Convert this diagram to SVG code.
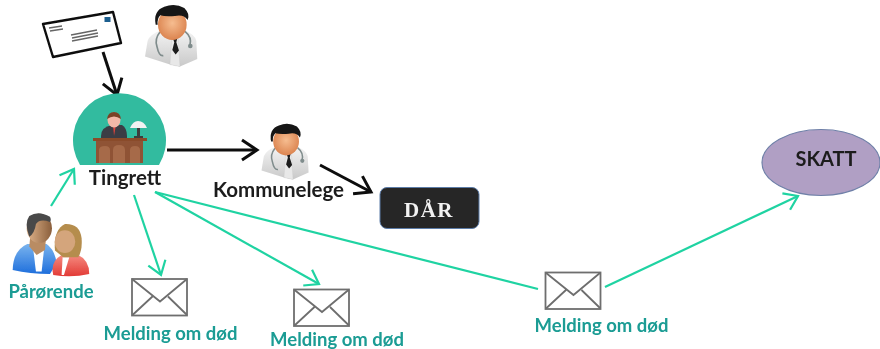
<svg xmlns="http://www.w3.org/2000/svg" xmlns:xlink="http://www.w3.org/1999/xlink" width="880" height="349" viewBox="0 0 880 349">
<style>
text{font-family:Lato,"Liberation Sans",sans-serif;font-weight:700;text-anchor:middle}
.k{fill:#1c1c1c;font-size:20.5px}
.t{fill:#1a9c94;font-size:18.5px}
.g{fill:none;stroke:#1fd3a2;stroke-width:2.2;marker-end:url(#ag)}
.g0{fill:none;stroke:#1fd3a2;stroke-width:2.2}
.b{fill:none;stroke:#0d0d0d;stroke-width:3;marker-end:url(#ab)}
.env{fill:#fff;stroke:#6e6e6e;stroke-width:1.8}
.soft{filter:url(#soft)}
</style>
<defs>
<filter id="soft" x="-5%" y="-5%" width="110%" height="110%"><feGaussianBlur stdDeviation="0.4"/></filter>
<marker id="ag" markerUnits="userSpaceOnUse" markerWidth="20" markerHeight="24" refX="15" refY="12" orient="auto"><path d="M2 3 L15 12 L2 21" fill="none" stroke="#1fd3a2" stroke-width="2.2"/></marker>
<marker id="ab" markerUnits="userSpaceOnUse" markerWidth="22" markerHeight="26" refX="17" refY="13" orient="auto"><path d="M2 3 L17 13 L2 23" fill="none" stroke="#0d0d0d" stroke-width="3"/></marker>
<radialGradient id="skin" cx="50%" cy="45%" r="60%"><stop offset="0" stop-color="#f6bd90"/><stop offset="1" stop-color="#d97f4a"/></radialGradient>
<linearGradient id="coat" x1="0" y1="0" x2="0" y2="1"><stop offset="0" stop-color="#f4f4f4"/><stop offset="1" stop-color="#c9c9c9"/></linearGradient>
<linearGradient id="blue" x1="0" y1="0" x2="0" y2="1"><stop offset="0" stop-color="#7ab4ee"/><stop offset="1" stop-color="#1f6fdc"/></linearGradient>
<linearGradient id="red" x1="0" y1="0" x2="0" y2="1"><stop offset="0" stop-color="#f58b80"/><stop offset="1" stop-color="#e23a35"/></linearGradient>
<linearGradient id="tan" x1="0" y1="0" x2="1" y2="0"><stop offset="0" stop-color="#e0b48c"/><stop offset="1" stop-color="#8a5f3c"/></linearGradient>
<g id="doctor">
<path d="M0 158 L8 110 Q14 92 48 78 L118 78 Q150 92 154 110 L157 165 L105 188 L75 182 Z" fill="url(#coat)"/>
<path d="M75 182 L80 105 L100 105 L105 188 Z" fill="#e8e8e8" stroke="#c4c4c4"/>
<path d="M82 98 L98 98 L94 115 L102 140 L92 152 L82 138 L88 115 Z" fill="#1b1b1b"/>
<path d="M45 84 Q28 105 36 128 Q42 158 55 155 M120 82 Q142 100 135 124" fill="none" stroke="#7f8c8c" stroke-width="5"/>
<circle cx="136" cy="126" r="7" fill="#7f8c8c"/>
<ellipse cx="82" cy="62" rx="43" ry="46" fill="url(#skin)"/>
<path d="M32 62 Q24 20 58 8 Q90 -4 118 12 Q136 30 128 48 Q116 30 90 36 Q60 38 46 34 Q36 44 38 62 Z" fill="#141414"/>
</g>
<g id="mail">
<rect x="0" y="0" width="55" height="36.5"/>
<path d="M0 0 L28 22.5 L55 0 M0.5 36 L21 17 M55 36 L36 17.5" fill="none"/>
</g>
</defs>

<g id="connectors">
<path class="b" d="M103 52 L117 95"/>
<path class="b" d="M167 150 L257 150"/>
<path class="b" d="M320 165 L371 192"/>
<path class="g" d="M51 206 L74 169"/>
<path class="g" d="M134 195 L161 275"/>
<path class="g" d="M155 192 L319 284"/>
<path class="g0" d="M155 192 L538 289"/>
<path class="g" d="M605 287 L798 196"/>
</g>

<g id="letter" class="soft">
<path d="M43 24 L113 12 L121 43 L53 57 Z" fill="#fff" stroke="#111" stroke-width="2.4" stroke-linejoin="round"/>
<path d="M49 28 L62 26 M50 31 L63 29 M71 35 L97 30 M72 38 L98 33 M72 41 L98 36" stroke="#666" stroke-width="1.3" fill="none"/>
<rect x="104.500" y="17" width="6" height="5" fill="#1f5f8f"/>
</g>

<g id="doctor-top" class="soft"><use xlink:href="#doctor" href="#doctor" transform="translate(145 4) scale(.333)"/></g>

<g id="tingrett">
<g class="soft">
<path d="M80 165 A46.500 47 0 1 1 159 165 Z" fill="#32bb9f"/>
<path d="M101 136 Q101 127 112 125 L122 125 Q127 128 127 136 V138 H101 Z" fill="#3a3d44"/>
<path d="M113 125 L114 136 L116 125 Z" fill="#d9443f"/>
<ellipse cx="114" cy="120" rx="6.500" ry="7.500" fill="#f2b8a8"/>
<path d="M107 119 Q108 112 114 112 Q120 112 121 119 Q114 114 107 119 Z" fill="#7a4326"/>
<path d="M130 128 Q133 121 138 121 Q144 121 147 128 Z" fill="#f2f2f2"/>
<path d="M137 128 H140 V136 H143 V138 H134 V136 H137 Z" fill="#3e3e3e"/>
<rect x="93" y="138" width="54" height="3" fill="#8a4b2b"/>
<rect x="96" y="141" width="47" height="22" fill="#8f5234"/>
<path d="M99 163 V150 Q99 146 105 146 Q110 146 110 150 V163 Z M113 163 V150 Q113 145 119 145 Q125 145 125 150 V163 Z M130 163 V150 Q130 146 135 146 Q140 146 140 150 V163 Z" fill="#a66a48"/>
</g>
<text class="k soft" x="125" y="185">Tingrett</text>
</g>

<g id="kommunelege">
<g class="soft"><use xlink:href="#doctor" href="#doctor" transform="translate(261.500 123) scale(.3)"/></g>
<text class="k soft" x="278.500" y="197">Kommunelege</text>
</g>

<g id="daar">
<rect x="380" y="187.500" width="99" height="41" rx="7" fill="#262626" stroke="#5c7ca8" stroke-width="1"/>
<text class="soft" x="429" y="217" fill="#f2f2f2" style="font-family:'Liberation Serif',serif;font-size:21px;letter-spacing:1.500px">DÅR</text>
</g>

<g id="parorende">
<g class="soft" transform="translate(0 200) scale(.333)">
<path d="M38 210 Q40 150 82 132 L140 132 Q165 150 170 190 L150 222 Q90 222 38 210 Z" fill="url(#blue)"/>
<path d="M100 150 L132 150 L125 215 L108 215 Z" fill="#fff"/>
<path d="M88 140 L92 95 L140 95 L135 150 L110 165 Z" fill="#b98c63"/>
<ellipse cx="118" cy="85" rx="38" ry="44" fill="url(#tan)"/>
<path d="M88 110 Q72 70 88 48 Q115 30 150 50 Q155 60 150 66 Q120 55 108 72 Q104 100 88 110 Z" fill="#4a4a4a"/>
<path d="M160 225 Q150 185 185 165 L235 165 Q268 180 268 222 Q215 235 160 225 Z" fill="url(#red)"/>
<path d="M188 172 L208 172 L192 225 L185 225 Z" fill="#fff"/>
<path d="M165 152 Q160 90 195 72 Q240 70 245 115 Q248 150 235 172 L190 172 Z" fill="#b58d4e"/>
<ellipse cx="195" cy="125" rx="31" ry="34" fill="#d4a57c"/>
</g>
<text class="t soft" x="51" y="298">Pårørende</text>
</g>

<g id="melding-1">
<use class="env soft" xlink:href="#mail" href="#mail" x="132" y="279"/>
<text class="t soft" x="170.500" y="340">Melding om død</text>
</g>

<g id="melding-2">
<use class="env soft" xlink:href="#mail" href="#mail" x="294" y="289.500"/>
<text class="t soft" x="337" y="346">Melding om død</text>
</g>

<g id="melding-3">
<use class="env soft" xlink:href="#mail" href="#mail" x="545.500" y="272.500"/>
<text class="t soft" x="601.500" y="332">Melding om død</text>
</g>

<g id="skatt">
<ellipse cx="821" cy="162.500" rx="59" ry="33" fill="#b09fc4" stroke="#6f80a8" stroke-width="1.200"/>
<text class="soft" x="826" y="166" fill="#1c1c1c" style="font-size:20px">SKATT</text>
</g>
</svg>
